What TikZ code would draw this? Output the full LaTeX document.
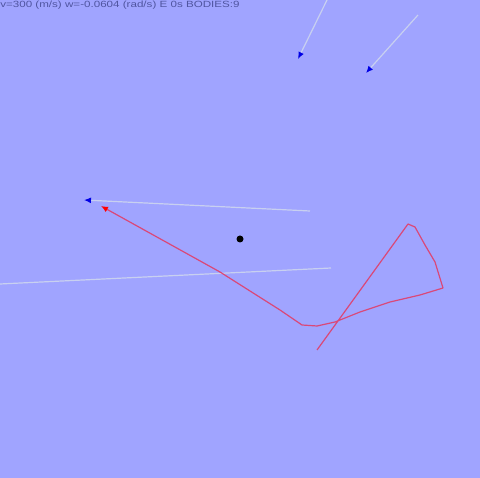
\documentclass[tikz,border=0pt]{standalone}
\usepackage{fontspec}
\setmainfont{Liberation Sans}
\usetikzlibrary{arrows.meta}
\definecolor{bg}{RGB}{160,164,255}
\definecolor{trail}{RGB}{200,208,240}
\definecolor{redtrail}{RGB}{218,72,120}
\definecolor{hud}{RGB}{80,85,160}
\tikzset{
  trailline/.style={draw=trail, line width=1.2pt},
  bluetip/.style={-{Latex[length=7pt,width=6pt,fill=blue!90!black,color=blue!90!black]}},
  redtip/.style={-{Latex[length=7pt,width=6pt,fill=red,color=red]}},
  redpath/.style={draw=redtrail, line width=1.2pt, line join=round},
}
\begin{document}
\begin{tikzpicture}[x=1pt,y=-1pt]
\fill[bg] (0,0) rectangle (480,478);
\useasboundingbox (0,0) rectangle (480,478);
\node[anchor=north west, inner sep=0pt, text=hud, xscale=1.29, font=\fontsize{9}{9}\selectfont] (hudtext) at (0,0.5) {v=300 (m/s) w=-0.0604 (rad/s) E 0s BODIES:9};
% light trails
\coordinate (l1a) at (0,284);
\coordinate (l1b) at (331,268);
\draw[trailline] (l1a) -- (l1b);
\coordinate (l2a) at (310,211);
\coordinate (l2b) at (84,200);
\draw[trailline, bluetip] (l2a) -- (l2b);
\coordinate (l3a) at (327,0);
\coordinate (l3b) at (298,59);
\draw[trailline, bluetip] (l3a) -- (l3b);
\coordinate (l4a) at (418,15);
\coordinate (l4b) at (366,73);
\draw[trailline, bluetip] (l4a) -- (l4b);
% red trail
\coordinate (r0) at (317,350);
\coordinate (rtop) at (408,224);
\coordinate (rend) at (101,206);
\draw[redpath] (r0) -- (rtop) -- (415,227) -- (425,245) -- (435,262) -- (443,288) -- (420,295) -- (390,302) -- (360,312) -- (335,322) -- (317,326) -- (302,325) -- (280,310) -- (220,272);
\draw[redpath, redtip] (220,272) -- (rend);
% body
\node[circle, fill=black, inner sep=0pt, minimum size=7pt] (body) at (240,239) {};
\end{tikzpicture}
\end{document}
